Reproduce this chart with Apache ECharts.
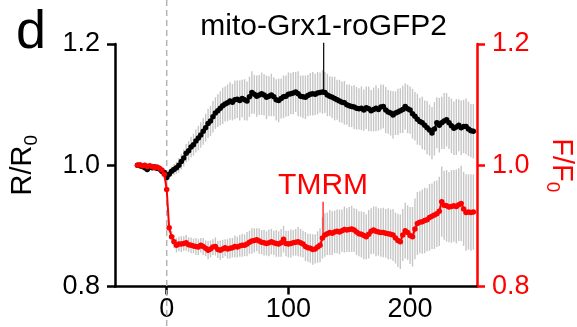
<!DOCTYPE html>
<html>
<head>
<meta charset="utf-8">
<script src="https://cdn.jsdelivr.net/npm/echarts@6/dist/echarts.min.js"></script>
<style>html,body{margin:0;padding:0;background:#fff}#c{width:577px;height:327px}</style>
</head>
<body>
<div id="c"></div>
<script>
// time (s)
const times = [
-24,-22,-20,-18,-16,-14,-12,-10,-8,-6,-4,-2,
0,2,4,6,8,10,12,14,16,18,
20,22,24,26,28,30,32,34,36,38,
40,42,44,46,48,50,52,54,56,58,
60,62,64,66,68,70,72,74,76,78,
80,82,84,86,88,90,92,94,96,98,
100,102,104,106,108,110,112,114,116,118,
120,122,124,126,128,130,132,134,136,138,
140,142,144,146,148,150,152,154,156,158,
160,162,164,166,168,170,172,174,176,178,
180,182,184,186,188,190,192,194,196,198,
200,202,204,206,208,210,212,214,216,218,
220,222,224,226,228,230,232,234,236,238,
240,242,244,246,248,250,252];

// mito-Grx1-roGFP2  R/R0 (mean)
const grxMean = [
1.000,0.999,0.998,0.996,0.993,0.997,0.996,0.997,0.995,0.994,0.990,0.988,
0.980,0.985,0.990,0.993,0.996,1.000,1.006,1.012,1.020,1.024,
1.030,1.034,1.040,1.045,1.050,1.056,1.062,1.069,1.073,1.080,
1.086,1.090,1.094,1.098,1.101,1.103,1.106,1.104,1.108,1.109,
1.107,1.110,1.108,1.106,1.113,1.120,1.117,1.114,1.116,1.118,
1.116,1.112,1.114,1.116,1.113,1.108,1.107,1.110,1.113,1.114,
1.117,1.118,1.119,1.121,1.118,1.114,1.113,1.112,1.115,1.117,
1.118,1.117,1.119,1.120,1.121,1.120,1.116,1.114,1.112,1.110,
1.108,1.106,1.104,1.103,1.100,1.098,1.097,1.096,1.094,1.093,
1.094,1.091,1.095,1.093,1.090,1.092,1.094,1.092,1.096,1.097,
1.091,1.088,1.086,1.083,1.086,1.088,1.090,1.092,1.097,1.093,
1.091,1.085,1.081,1.076,1.072,1.070,1.066,1.062,1.058,1.053,
1.060,1.070,1.066,1.070,1.073,1.075,1.070,1.065,1.061,1.063,
1.066,1.062,1.064,1.064,1.060,1.057,1.056];

// mito-Grx1-roGFP2 error (half width)
const grxErr = [
0.003,0.003,0.004,0.004,0.005,0.004,0.004,0.005,0.004,0.005,0.005,0.005,
0.006,0.007,0.008,0.009,0.010,0.012,0.013,0.014,0.015,0.016,
0.017,0.018,0.019,0.020,0.021,0.022,0.023,0.024,0.025,0.026,
0.026,0.027,0.028,0.030,0.029,0.030,0.031,0.030,0.032,0.031,
0.033,0.031,0.034,0.032,0.033,0.035,0.032,0.034,0.033,0.035,
0.034,0.036,0.033,0.035,0.032,0.034,0.036,0.033,0.035,0.034,
0.036,0.034,0.035,0.033,0.037,0.034,0.035,0.036,0.034,0.035,
0.036,0.034,0.035,0.033,0.036,0.034,0.035,0.033,0.034,0.036,
0.033,0.035,0.034,0.036,0.033,0.035,0.034,0.036,0.035,0.034,
0.036,0.034,0.035,0.037,0.034,0.036,0.038,0.035,0.037,0.036,
0.038,0.036,0.037,0.039,0.036,0.038,0.037,0.039,0.038,0.040,
0.039,0.041,0.040,0.042,0.039,0.043,0.041,0.044,0.042,0.043,
0.044,0.042,0.045,0.043,0.046,0.044,0.043,0.045,0.044,0.046,
0.043,0.045,0.044,0.046,0.045,0.044,0.045];

// TMRM  F/F0 (mean)
const tmrmMean = [
1.000,1.001,0.999,1.000,0.998,0.999,0.998,0.996,0.997,0.995,0.992,0.985,
0.960,0.897,0.882,0.874,0.868,0.870,0.870,0.871,0.872,0.869,
0.868,0.867,0.866,0.865,0.868,0.866,0.863,0.860,0.862,0.865,
0.866,0.861,0.860,0.862,0.864,0.862,0.863,0.864,0.866,0.865,
0.867,0.868,0.868,0.870,0.873,0.875,0.876,0.877,0.875,0.873,
0.872,0.871,0.872,0.874,0.872,0.871,0.870,0.872,0.878,0.871,
0.870,0.871,0.872,0.873,0.874,0.872,0.870,0.866,0.864,0.863,
0.861,0.862,0.865,0.868,0.880,0.885,0.887,0.889,0.888,0.890,
0.891,0.890,0.892,0.894,0.893,0.894,0.895,0.893,0.890,0.887,
0.886,0.884,0.882,0.886,0.891,0.893,0.891,0.890,0.889,0.889,
0.888,0.887,0.886,0.885,0.880,0.876,0.874,0.885,0.892,0.889,
0.884,0.882,0.895,0.904,0.906,0.907,0.909,0.910,0.914,0.916,
0.918,0.920,0.924,0.940,0.934,0.933,0.931,0.932,0.933,0.932,
0.935,0.937,0.928,0.922,0.923,0.922,0.923];

// TMRM error (half width)
const tmrmErr = [
0.003,0.003,0.003,0.004,0.003,0.003,0.004,0.003,0.004,0.004,0.004,0.005,
0.006,0.008,0.010,0.011,0.012,0.012,0.013,0.012,0.013,0.012,
0.013,0.012,0.014,0.013,0.012,0.014,0.013,0.015,0.014,0.013,
0.015,0.014,0.016,0.015,0.014,0.016,0.017,0.016,0.018,0.017,
0.018,0.019,0.018,0.020,0.019,0.021,0.020,0.019,0.021,0.020,
0.021,0.020,0.022,0.021,0.020,0.022,0.021,0.023,0.022,0.021,
0.022,0.023,0.021,0.022,0.024,0.023,0.022,0.024,0.023,0.024,
0.025,0.024,0.026,0.028,0.034,0.036,0.035,0.037,0.036,0.035,
0.036,0.037,0.035,0.038,0.036,0.037,0.038,0.036,0.038,0.037,
0.038,0.039,0.037,0.040,0.038,0.039,0.041,0.039,0.040,0.041,
0.040,0.042,0.041,0.043,0.042,0.044,0.045,0.043,0.046,0.045,
0.047,0.049,0.050,0.052,0.051,0.053,0.054,0.052,0.055,0.054,
0.056,0.055,0.057,0.058,0.057,0.059,0.058,0.060,0.059,0.061,
0.060,0.062,0.061,0.063,0.062,0.063,0.062];

// axis ticks
const xTicks = [0, 100, 200];
const yTicks = [0.8, 1.0, 1.2];

// annotations: [time, value at curve, value at top of leader line]
const grxLabel = 'mito-Grx1-roGFP2';
const grxAnno = [129, 1.121, 1.202];
const tmrmLabel = 'TMRM';
const tmrmAnno = [128.5, 0.880, 0.940];

const FONT = 'Liberation Sans, Arial, Helvetica, sans-serif';
const RED = '#ff0000';
const GRAY = '#c6c6c6';

const chart = echarts.init(document.getElementById('c'), null, {renderer: 'canvas'});

const pts = (m) => times.map((t, i) => [t, m[i]]);
const errData = (m, e) => times.map((t, i) => [t, m[i] - e[i], m[i] + e[i]]);

function errRender(params, api) {
  const p1 = api.coord([api.value(0), api.value(1)]);
  const p2 = api.coord([api.value(0), api.value(2)]);
  return {type: 'line', shape: {x1: p1[0], y1: p1[1], x2: p2[0], y2: p2[1]},
    style: {stroke: GRAY, lineWidth: 1.4}};
}

function annoRender(text, color) {
  return function (params, api) {
    const p1 = api.coord([api.value(0), api.value(1)]);
    const p2 = api.coord([api.value(0), api.value(2)]);
    return {type: 'group', children: [
      {type: 'line', shape: {x1: p1[0], y1: p1[1], x2: p2[0], y2: p2[1]},
        style: {stroke: color, lineWidth: 1.2}},
      {type: 'text', x: p2[0], y: p2[1] - 1,
        style: {text: text, fill: color, fontSize: 30, fontFamily: FONT,
          align: 'center', verticalAlign: 'bottom'}}
    ]};
  };
}

const yCommon = (color) => ({
  type: 'value', min: yTicks[0], max: yTicks[yTicks.length - 1], interval: 0.2,
  axisLine: {show: true, onZero: false, lineStyle: {color: color, width: 2.5}},
  axisTick: {show: true, inside: false, length: 8, lineStyle: {color: color, width: 2.5}},
  axisLabel: {color: color, fontSize: 27, fontFamily: FONT, margin: 15,
    formatter: (v) => v.toFixed(1)},
  splitLine: {show: false},
  nameLocation: 'middle'
});

const option = {
  animation: false,
  backgroundColor: '#fff',
  title: {text: 'd', left: 11, top: 1, textStyle: {fontSize: 54, fontWeight: 'normal', fontFamily: FONT, color: '#000'}},
  grid: {left: 115, right: 100, top: 44, bottom: 40.5, containLabel: false, outerBoundsMode: 'none'},
  xAxis: {
    type: 'value', min: -42.5, max: 255,
    axisLine: {onZero: false, lineStyle: {color: '#000', width: 2.5}},
    axisTick: {show: true, length: 8, customValues: xTicks, lineStyle: {color: '#000', width: 2.5}},
    axisLabel: {customValues: xTicks, color: '#000', fontSize: 27, fontFamily: FONT, margin: 10},
    splitLine: {show: false}
  },
  yAxis: [
    Object.assign(yCommon('#000'), {
      position: 'left',
      name: '{a|R/R}{b|0}', nameGap: 74, nameRotate: 90,
      nameTextStyle: {color: '#000', fontFamily: FONT, rich: {
        a: {fontSize: 29, fontFamily: FONT, color: '#000', lineHeight: 30, padding: [0, 0, 6, 0]},
        b: {fontSize: 19, fontFamily: FONT, color: '#000', lineHeight: 19, verticalAlign: 'bottom'}
      }}
    }),
    Object.assign(yCommon(RED), {
      position: 'right',
      name: '{a|F/F}{b|0}', nameGap: 58, nameRotate: -90,
      nameTextStyle: {color: RED, fontFamily: FONT, rich: {
        a: {fontSize: 29, fontFamily: FONT, color: RED, lineHeight: 30, padding: [0, 0, 6, 0]},
        b: {fontSize: 19, fontFamily: FONT, color: RED, lineHeight: 19, verticalAlign: 'bottom'}
      }}
    })
  ],
  series: [
    {type: 'custom', name: 'zero', xAxisIndex: 0, yAxisIndex: 0, z: 1, clip: false, silent: true,
      data: [[0, 1.0]],
      renderItem: (params, api) => {
        const p = api.coord([api.value(0), api.value(1)]);
        return {type: 'line', shape: {x1: p[0], y1: 0, x2: p[0], y2: api.getHeight()},
          style: {stroke: '#b4b4b4', lineWidth: 1.5, lineDash: [6, 4]}};
      }},
    {type: 'custom', name: 'grxErr', yAxisIndex: 0, z: 2, silent: true,
      data: errData(grxMean, grxErr), renderItem: errRender},
    {type: 'custom', name: 'tmrmErr', yAxisIndex: 1, z: 2, silent: true,
      data: errData(tmrmMean, tmrmErr), renderItem: errRender},
    {type: 'line', name: 'mito-Grx1-roGFP2', yAxisIndex: 0, z: 3,
      data: pts(grxMean), symbol: 'circle', symbolSize: 5.5, showAllSymbol: true,
      itemStyle: {color: '#000'}, lineStyle: {color: '#000', width: 2}},
    {type: 'line', name: 'TMRM', yAxisIndex: 1, z: 4,
      data: pts(tmrmMean), symbol: 'circle', symbolSize: 5.5, showAllSymbol: true,
      itemStyle: {color: RED}, lineStyle: {color: RED, width: 2}},
    {type: 'custom', name: 'grxAnno', yAxisIndex: 0, z: 5, clip: false, silent: true,
      data: [grxAnno], renderItem: annoRender(grxLabel, '#000')},
    {type: 'custom', name: 'tmrmAnno', yAxisIndex: 1, z: 5, clip: false, silent: true,
      data: [tmrmAnno], renderItem: annoRender(tmrmLabel, RED)}
  ]
};
chart.setOption(option);
</script>
</body>
</html>
